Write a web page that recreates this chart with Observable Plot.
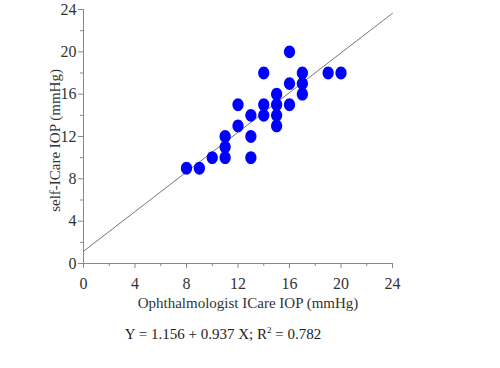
<!DOCTYPE html>
<html>
<head>
<meta charset="utf-8">
<script src="https://cdn.jsdelivr.net/npm/d3@7"></script>
<script src="https://cdn.jsdelivr.net/npm/@observablehq/plot@0.6"></script>
<style>
  html, body { margin: 0; padding: 0; background: #fff; }
  #wrap { width: 500px; height: 368px; position: relative; font-family: "Liberation Serif", serif; }
  #cap { position: absolute; left: 0; width: 446px; top: 326px; text-align: center; font-size: 15px; color: #222; }
  #cap sup { font-size: 9px; vertical-align: 6px; line-height: 0; }
</style>
</head>
<body>
<div id="wrap"><div id="chart"></div><div id="cap">Y = 1.156 + 0.937 X; R<sup>2</sup> = 0.782</div></div>
<script>
const ophthalmologist = [8, 9, 10, 11, 11, 11, 12, 12, 13, 13, 13, 14, 14, 14, 15, 15, 15, 15, 16, 16, 16, 17, 17, 17, 19, 20];
const selfICare       = [9, 9, 10, 10, 11, 12, 13, 15, 14, 12, 10, 18, 15, 14, 16, 15, 14, 13, 20, 17, 15, 18, 17, 16, 18, 18];
const intercept = 1.156;
const slope = 0.937;
const fitX = [0, 24];
const majorTicks = [0, 4, 8, 12, 16, 20, 24];
const minorTicks = [2, 6, 10, 14, 18, 22];
const xLabel = "Ophthalmologist ICare IOP (mmHg)";
const yLabel = "self-ICare IOP (mmHg)";

const points = ophthalmologist.map((x, i) => ({x, y: selfICare[i]}));
const fit = fitX.map(x => ({x, y: intercept + slope * x}));

// slightly tall ellipse symbol, like the original markers
const ellipse = {
  draw(ctx, size) {
    const rx = 5.6, ry = 6.4, k = 0.5523;
    ctx.moveTo(rx, 0);
    ctx.bezierCurveTo(rx, k * ry, k * rx, ry, 0, ry);
    ctx.bezierCurveTo(-k * rx, ry, -rx, k * ry, -rx, 0);
    ctx.bezierCurveTo(-rx, -k * ry, -k * rx, -ry, 0, -ry);
    ctx.bezierCurveTo(k * rx, -ry, rx, -k * ry, rx, 0);
    ctx.closePath();
  }
};

const chart = Plot.plot({
  width: 500,
  height: 326,
  marginLeft: 83,
  marginRight: 108,
  marginTop: 9,
  marginBottom: 63,
  style: {fontFamily: "Liberation Serif, serif", fontSize: "15px", color: "#333", background: "#fff"},
  x: {domain: [0, 24]},
  y: {domain: [0, 24]},
  marks: [
    Plot.axisX(minorTicks, {tickSize: 3, text: null, stroke: "#888", label: null}),
    Plot.axisY(minorTicks, {tickSize: 3, text: null, stroke: "#888", label: null}),
    Plot.axisX(majorTicks, {tickSize: 5, tickPadding: 9, stroke: "#888", fill: "#333", fontSize: 16, label: null}),
    Plot.axisY(majorTicks, {tickSize: 5, tickPadding: 2, stroke: "#888", fill: "#333", fontSize: 16, label: null}),
    Plot.text([xLabel], {frameAnchor: "bottom", text: d => d, lineAnchor: "middle", textAnchor: "middle", dx: 10, dy: 40, fontSize: 15, fill: "#333"}),
    Plot.text([yLabel], {frameAnchor: "left", text: d => d, rotate: -90, lineAnchor: "middle", textAnchor: "middle", dx: -28, dy: 4, fontSize: 15, fill: "#333"}),
    Plot.ruleX([0], {stroke: "#888"}),
    Plot.ruleY([0], {stroke: "#888"}),
    Plot.line(fit, {x: "x", y: "y", stroke: "#777", strokeWidth: 1}),
    Plot.dot(points, {x: "x", y: "y", symbol: ellipse, r: 6, fill: "#0000ff", stroke: "none"})
  ]
});
document.getElementById("chart").appendChild(chart);
</script>
</body>
</html>
